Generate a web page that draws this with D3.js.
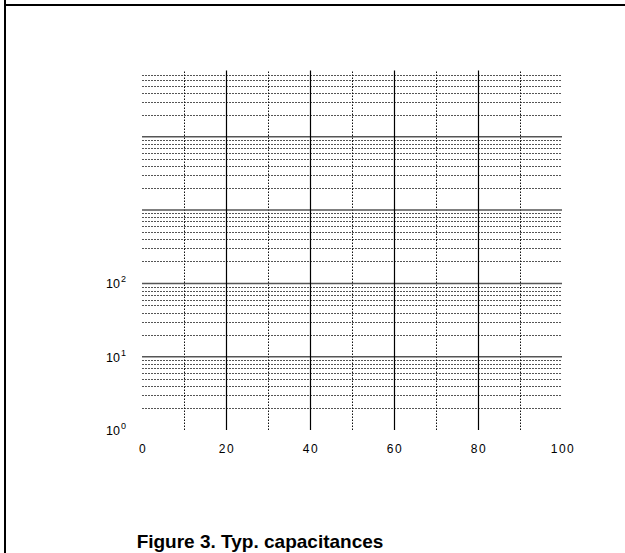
<!DOCTYPE html>
<html>
<head>
    <meta charset="utf-8">
    <title>Figure 3. Typ. capacitances</title>
    <script src="https://cdnjs.cloudflare.com/ajax/libs/d3/7.8.5/d3.min.js"></script>
    <style type="text/css">
    html, body {
        margin: 0;
        overflow: hidden;
        background: #fff;
        font-family: "Liberation Sans", Arial, sans-serif;
    }
    svg {
        display: block;
    }
    .major-x {
        stroke: #000;
        stroke-width: 1.2px;
    }
    .minor-x {
        stroke: #111;
        stroke-width: 1px;
        stroke-dasharray: 1.5, 1.5;
    }
    .major-y {
        stroke: #555;
        stroke-width: 1.5px;
    }
    .minor-y {
        stroke: #555;
        stroke-width: 1px;
        stroke-dasharray: 2, 1;
    }
    .tick-label {
        font-size: 12px;
        letter-spacing: 1.5px;
        fill: #000;
    }
    </style>
</head>

<body>
<script>

// chart values
var xDomain = [0, 100];
var yDomain = [1, 80000];
var xTickLabels = [0, 20, 40, 60, 80, 100];
var xMajorLines = [20, 40, 60, 80];
var xMinorLines = [10, 30, 50, 70, 90];
var yDecades = [1, 10, 100, 1000, 10000];
var yMajorLines = [10, 100, 1000, 10000];
var yMinorMult = [2, 3, 4, 5, 6, 7, 8, 9];
var yTickExp = [0, 1, 2];
var title = "Figure 3. Typ. capacitances";

var W = 625, H = 553;

var svg = d3.select("body").append("svg")
    .attr("width", W)
    .attr("height", H);

// outer frame (left + top edges)
svg.append("line")
    .attr("x1", 5).attr("x2", 5)
    .attr("y1", 0).attr("y2", H)
    .attr("stroke", "#000").attr("stroke-width", 2);
svg.append("line")
    .attr("x1", 5).attr("x2", W)
    .attr("y1", 5).attr("y2", 5)
    .attr("stroke", "#000").attr("stroke-width", 2);

var x = d3.scaleLinear()
    .domain(xDomain)
    .range([142, 562]);

var y = d3.scaleLog()
    .domain(yDomain)
    .range([430, 70.6]);

// minor horizontal lines
var minorY = [];
yDecades.forEach(function(d) {
    yMinorMult.forEach(function(m) {
        if (d * m < yDomain[1]) minorY.push(d * m);
    });
});

svg.append("g").selectAll("line")
    .data(minorY)
    .enter().append("line")
    .attr("class", "minor-y")
    .attr("x1", x(0)).attr("x2", x(100))
    .attr("y1", function(d) { return Math.round(y(d)) + 0.5; })
    .attr("y2", function(d) { return Math.round(y(d)) + 0.5; });

// minor vertical lines
svg.append("g").selectAll("line")
    .data(xMinorLines)
    .enter().append("line")
    .attr("class", "minor-x")
    .attr("x1", function(d) { return Math.round(x(d)) + 0.5; })
    .attr("x2", function(d) { return Math.round(x(d)) + 0.5; })
    .attr("y1", y(yDomain[0])).attr("y2", y(yDomain[1]));

// decade lines
svg.append("g").selectAll("line")
    .data(yMajorLines)
    .enter().append("line")
    .attr("class", "major-y")
    .attr("x1", x(0)).attr("x2", x(100))
    .attr("y1", function(d) { return y(d); })
    .attr("y2", function(d) { return y(d); });

svg.append("g").selectAll("line")
    .data(xMajorLines)
    .enter().append("line")
    .attr("class", "major-x")
    .attr("x1", function(d) { return Math.round(x(d)) + 0.5; })
    .attr("x2", function(d) { return Math.round(x(d)) + 0.5; })
    .attr("y1", y(yDomain[0])).attr("y2", y(yDomain[1]));

// x labels
svg.append("g").selectAll("text")
    .data(xTickLabels)
    .enter().append("text")
    .attr("class", "tick-label")
    .attr("x", function(d) { return x(d) + 1; })
    .attr("y", 453)
    .attr("text-anchor", "middle")
    .text(function(d) { return d; });

// y labels 10^n
var yl = svg.append("g").selectAll("text")
    .data(yTickExp)
    .enter().append("text")
    .attr("x", 106)
    .attr("y", function(d) { return y(Math.pow(10, d)) + 5; })
    .attr("font-size", "12.5px")
    .attr("fill", "#000");
yl.append("tspan").text("10");
yl.append("tspan")
    .attr("dx", 1)
    .attr("dy", -6)
    .attr("font-size", "9px")
    .text(function(d) { return d; });

// caption
svg.append("text")
    .attr("x", 260)
    .attr("y", 548)
    .attr("text-anchor", "middle")
    .attr("font-size", "19px")
    .attr("font-weight", "bold")
    .text(title);

</script>
</body>
</html>
